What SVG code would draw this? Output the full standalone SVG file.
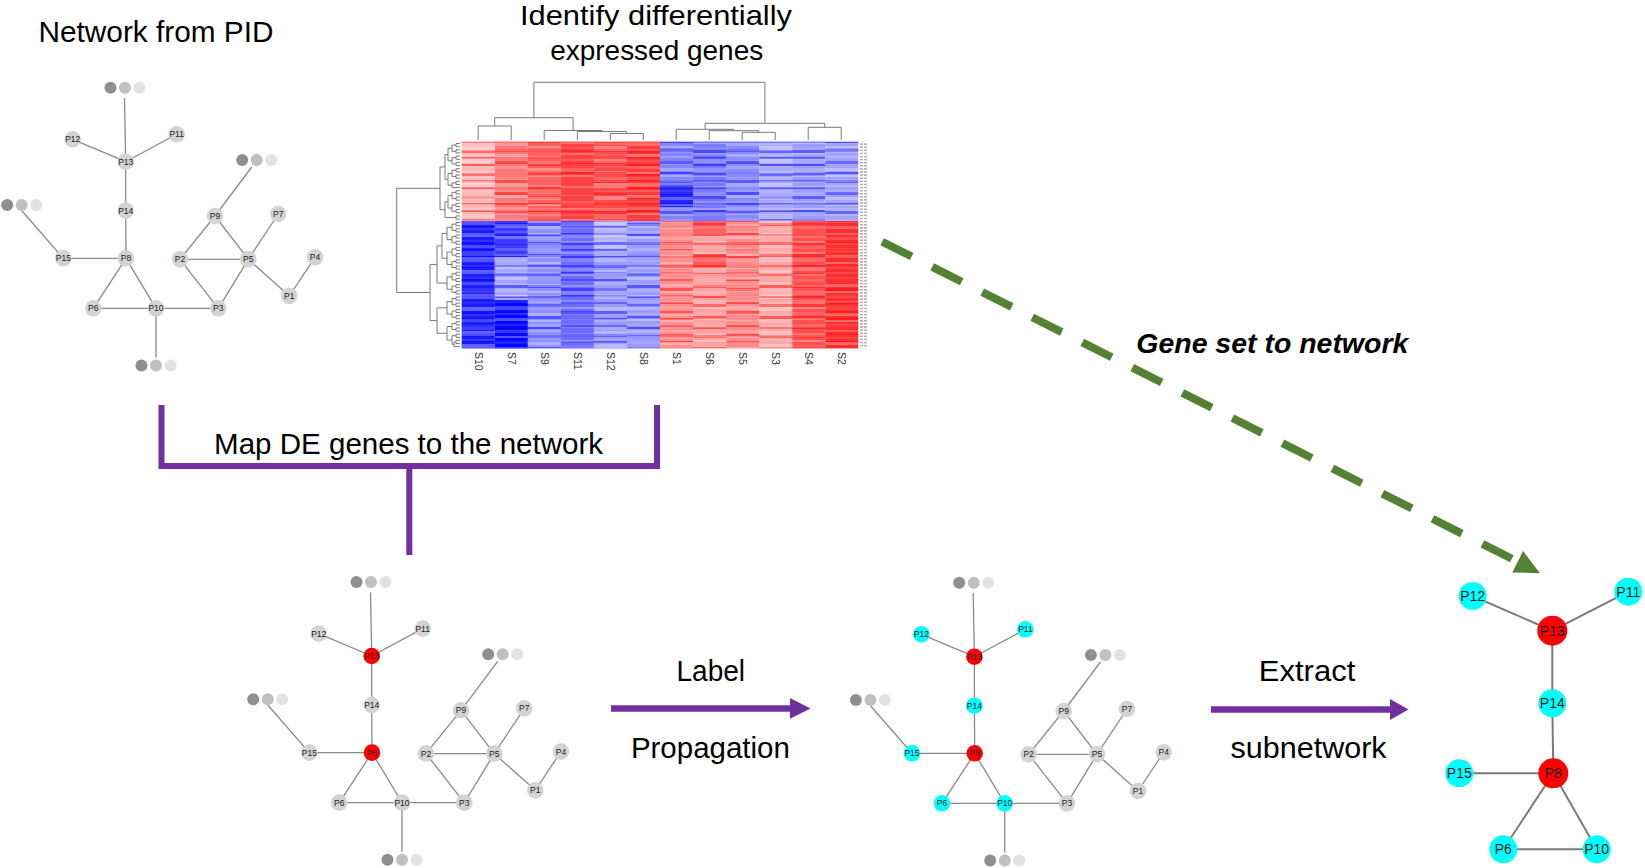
<svg xmlns="http://www.w3.org/2000/svg" xmlns:xlink="http://www.w3.org/1999/xlink" width="1645" height="868" viewBox="0 0 1645 868">
<style>
.t{font-family:"Liberation Sans",Arial,sans-serif;fill:#000}
.big{font-size:30px}
.sub{font-size:28px}
.sn text{font-family:"Liberation Sans",Arial,sans-serif;font-size:8.5px;fill:#222;text-anchor:middle}
.bn text{font-family:"Liberation Sans",Arial,sans-serif;font-size:14px;fill:#1a1a1a;text-anchor:middle}
.g{fill:#d3d3d3}
.r{fill:#ff0000}
.c{fill:#00ffff}
.e{stroke:#8a8a8a;stroke-width:1.3;fill:none}
.be{stroke:#7a7a7a;stroke-width:2;fill:none}
.dend{stroke:#7a7a7a;stroke-width:1;fill:none}
.pur{stroke:#7030a0;stroke-width:6;fill:none}
.collab{font-family:"Liberation Sans",Arial,sans-serif;font-size:10.5px;fill:#333}
</style>
<defs>
<path id="net-edges" d="M72.7 139.3L125.7 161.7M176.7 134.3L125.7 161.7M124.5 98L125.7 161.7M125.7 161.7L125.7 210.7M125.7 210.7L126 258.3M63.3 258.3L126 258.3M22 211L63.3 258.3M126 258.3L93.3 308.3M126 258.3L156 308.3M93.3 308.3L156 308.3M156 308.3L218.3 308.3M156 308.3L156 357.5M180 259.3L218.3 308.3M180 259.3L248.3 259.3M215 216L180 259.3M215 216L248.3 259.3M215 216L251.7 167M248.3 259.3L278.3 214M248.3 259.3L218.3 308.3M248.3 259.3L289.3 296M289.3 296L315 257.3"/>
<g id="dots3"><circle cx="-14.5" cy="0" r="6" fill="#8f8f8f"/><circle cx="0" cy="0" r="6" fill="#c0c0c0"/><circle cx="14.5" cy="0" r="6" fill="#e2e2e2"/></g>
<pattern id="w1" width="40" height="37" patternUnits="userSpaceOnUse"><rect y="0" width="40" height="3" fill="#fff" opacity=".25"/><rect y="6" width="40" height="2" fill="#fff" opacity=".12"/><rect y="11" width="40" height="4" fill="#fff" opacity=".3"/><rect y="18" width="40" height="2" fill="#fff" opacity=".08"/><rect y="23" width="40" height="3" fill="#fff" opacity=".2"/><rect y="29" width="40" height="5" fill="#fff" opacity=".15"/><rect y="35" width="40" height="2" fill="#fff" opacity=".3"/></pattern>
<pattern id="w2" width="40" height="41" patternUnits="userSpaceOnUse"><rect y="2" width="40" height="3" fill="#fff" opacity=".2"/><rect y="8" width="40" height="2" fill="#fff" opacity=".3"/><rect y="13" width="40" height="3" fill="#fff" opacity=".1"/><rect y="19" width="40" height="4" fill="#fff" opacity=".25"/><rect y="26" width="40" height="2" fill="#fff" opacity=".15"/><rect y="31" width="40" height="3" fill="#fff" opacity=".3"/><rect y="37" width="40" height="2" fill="#fff" opacity=".1"/></pattern>
<pattern id="w3" width="40" height="29" patternUnits="userSpaceOnUse"><rect y="1" width="40" height="2" fill="#fff" opacity=".3"/><rect y="5" width="40" height="3" fill="#fff" opacity=".15"/><rect y="11" width="40" height="2" fill="#fff" opacity=".2"/><rect y="16" width="40" height="4" fill="#fff" opacity=".1"/><rect y="23" width="40" height="3" fill="#fff" opacity=".28"/></pattern>
<pattern id="w4" width="40" height="33" patternUnits="userSpaceOnUse"><rect y="3" width="40" height="4" fill="#fff" opacity=".18"/><rect y="10" width="40" height="2" fill="#fff" opacity=".3"/><rect y="15" width="40" height="3" fill="#fff" opacity=".1"/><rect y="21" width="40" height="2" fill="#fff" opacity=".25"/><rect y="27" width="40" height="4" fill="#fff" opacity=".14"/></pattern>
<pattern id="pr1" width="40" height="23" patternUnits="userSpaceOnUse"><rect y="3" width="40" height="2" fill="#ff0000" opacity=".5"/><rect y="12" width="40" height="3" fill="#ff0000" opacity=".4"/><rect y="19" width="40" height="1.5" fill="#ff0000" opacity=".5"/></pattern>
<pattern id="pr2" width="40" height="31" patternUnits="userSpaceOnUse"><rect y="6" width="40" height="3" fill="#ff0000" opacity=".45"/><rect y="17" width="40" height="2" fill="#ff0000" opacity=".5"/><rect y="25" width="40" height="3" fill="#ff0000" opacity=".35"/></pattern>
<pattern id="pb1" width="40" height="23" patternUnits="userSpaceOnUse"><rect y="3" width="40" height="2" fill="#0000ff" opacity=".5"/><rect y="12" width="40" height="3" fill="#0000ff" opacity=".4"/><rect y="19" width="40" height="1.5" fill="#0000ff" opacity=".5"/></pattern>
<pattern id="pb2" width="40" height="31" patternUnits="userSpaceOnUse"><rect y="6" width="40" height="3" fill="#0000ff" opacity=".45"/><rect y="17" width="40" height="2" fill="#0000ff" opacity=".5"/><rect y="25" width="40" height="3" fill="#0000ff" opacity=".35"/></pattern>
<pattern id="rl" width="8" height="3.1" patternUnits="userSpaceOnUse"><rect x="0" y="0.9" width="7" height="1.2" fill="#9a9a9a"/></pattern>
</defs>
<rect width="1645" height="868" fill="#fff"/>

<!-- Titles -->
<g id="titles">
<text class="t big" x="38.5" y="41.7" textLength="235" lengthAdjust="spacingAndGlyphs">Network from PID</text>
<text class="t sub" x="656" y="24.5" text-anchor="middle" textLength="272" lengthAdjust="spacingAndGlyphs">Identify differentially</text>
<text class="t sub" x="656.7" y="59.5" text-anchor="middle" textLength="213" lengthAdjust="spacingAndGlyphs">expressed genes</text>
</g>

<!-- Heatmap -->
<g id="heatmap">
<g id="hm-cells">
<rect x="461.7" y="141.7" width="33.1" height="79.3" fill="#ffb8b8"/>
<rect x="494.75" y="141.7" width="33.1" height="79.3" fill="#ff7878"/>
<rect x="527.8" y="141.7" width="33.1" height="79.3" fill="#ff6262"/>
<rect x="560.85" y="141.7" width="33.1" height="79.3" fill="#ff4141"/>
<rect x="593.9" y="141.7" width="33.1" height="79.3" fill="#ff4a4a"/>
<rect x="626.95" y="141.7" width="33.1" height="79.3" fill="#ff3c3c"/>
<rect x="660" y="141.7" width="33.1" height="79.3" fill="#8484ff"/>
<rect x="660" y="185" width="33.1" height="22" fill="#2424ff"/>
<rect x="693.05" y="141.7" width="33.1" height="79.3" fill="#7a7aff"/>
<rect x="726.1" y="141.7" width="33.1" height="79.3" fill="#8a8aff"/>
<rect x="759.15" y="141.7" width="33.1" height="79.3" fill="#a9a9ff"/>
<rect x="792.2" y="141.7" width="33.1" height="79.3" fill="#9c9cff"/>
<rect x="825.25" y="141.7" width="33.05" height="79.3" fill="#a2a2ff"/>

<rect x="461.7" y="221" width="33.1" height="127.3" fill="#1c1cff"/>
<rect x="494.75" y="221" width="33.1" height="127.3" fill="#3a3aff"/>
<rect x="494.75" y="257" width="33.1" height="43" fill="#a6a6ff"/>
<rect x="494.75" y="300" width="33.1" height="48.3" fill="#0808ff"/>
<rect x="527.8" y="221" width="33.1" height="127.3" fill="#9090ff"/>
<rect x="560.85" y="221" width="33.1" height="127.3" fill="#6c6cff"/>
<rect x="593.9" y="221" width="33.1" height="127.3" fill="#9a9aff"/>
<rect x="593.9" y="221" width="33.1" height="29" fill="#b5b5ff"/>
<rect x="626.95" y="221" width="33.1" height="127.3" fill="#9c9cff"/>
<rect x="660" y="221" width="33.1" height="127.3" fill="#ff8e8e"/>
<rect x="693.05" y="221" width="33.1" height="127.3" fill="#ffa2a2"/>
<rect x="693.05" y="221" width="33.1" height="15" fill="#ff6060"/>
<rect x="693.05" y="255" width="33.1" height="13" fill="#ff5a5a"/>
<rect x="726.1" y="221" width="33.1" height="127.3" fill="#ff8c8c"/>
<rect x="759.15" y="221" width="33.1" height="127.3" fill="#ffa8a8"/>
<rect x="792.2" y="221" width="33.1" height="127.3" fill="#ff5050"/>
<rect x="825.25" y="221" width="33.05" height="127.3" fill="#ff2e2e"/>

<rect x="461.7" y="141.7" width="33.1" height="79.3" fill="url(#pr1)"/>
<rect x="494.75" y="141.7" width="33.1" height="79.3" fill="url(#pr2)"/>
<rect x="527.8" y="141.7" width="33.1" height="79.3" fill="url(#pr1)"/>
<rect x="560.85" y="141.7" width="33.1" height="79.3" fill="url(#pr2)"/>
<rect x="593.9" y="141.7" width="33.1" height="79.3" fill="url(#pr2)"/>
<rect x="626.95" y="141.7" width="33.1" height="79.3" fill="url(#pr1)"/>
<rect x="660" y="141.7" width="33.1" height="79.3" fill="url(#pb2)"/>
<rect x="693.05" y="141.7" width="33.1" height="79.3" fill="url(#pb1)"/>
<rect x="726.1" y="141.7" width="33.1" height="79.3" fill="url(#pb2)"/>
<rect x="759.15" y="141.7" width="33.1" height="79.3" fill="url(#pb1)"/>
<rect x="792.2" y="141.7" width="33.1" height="79.3" fill="url(#pb1)"/>
<rect x="825.25" y="141.7" width="33.05" height="79.3" fill="url(#pb2)"/>
<rect x="461.7" y="221" width="33.1" height="127.3" fill="url(#pb1)"/>
<rect x="494.75" y="221" width="33.1" height="127.3" fill="url(#pb2)"/>
<rect x="527.8" y="221" width="33.1" height="127.3" fill="url(#pb2)"/>
<rect x="560.85" y="221" width="33.1" height="127.3" fill="url(#pb1)"/>
<rect x="593.9" y="221" width="33.1" height="127.3" fill="url(#pb1)"/>
<rect x="626.95" y="221" width="33.1" height="127.3" fill="url(#pb2)"/>
<rect x="660" y="221" width="33.1" height="127.3" fill="url(#pr1)"/>
<rect x="693.05" y="221" width="33.1" height="127.3" fill="url(#pr2)"/>
<rect x="726.1" y="221" width="33.1" height="127.3" fill="url(#pr1)"/>
<rect x="759.15" y="221" width="33.1" height="127.3" fill="url(#pr2)"/>
<rect x="792.2" y="221" width="33.1" height="127.3" fill="url(#pr2)"/>
<rect x="825.25" y="221" width="33.05" height="127.3" fill="url(#pr1)"/>

<rect x="461.7" y="141.7" width="33.1" height="206.6" fill="url(#w1)"/>
<rect x="494.75" y="141.7" width="33.1" height="206.6" fill="url(#w2)"/>
<rect x="527.8" y="141.7" width="33.1" height="206.6" fill="url(#w3)"/>
<rect x="560.85" y="141.7" width="33.1" height="206.6" fill="url(#w4)"/>
<rect x="593.9" y="141.7" width="33.1" height="206.6" fill="url(#w1)"/>
<rect x="626.95" y="141.7" width="33.1" height="206.6" fill="url(#w2)"/>
<rect x="660" y="141.7" width="33.1" height="206.6" fill="url(#w3)"/>
<rect x="693.05" y="141.7" width="33.1" height="206.6" fill="url(#w4)"/>
<rect x="726.1" y="141.7" width="33.1" height="206.6" fill="url(#w2)"/>
<rect x="759.15" y="141.7" width="33.1" height="206.6" fill="url(#w1)"/>
<rect x="792.2" y="141.7" width="33.1" height="206.6" fill="url(#w4)"/>
<rect x="825.25" y="141.7" width="33.05" height="206.6" fill="url(#w3)"/>
</g>
<rect id="hm-rowlabels" x="860" y="141.7" width="7" height="206.6" fill="url(#rl)"/>
<g id="hm-dendro" class="dend">
<path d="M478.2 140V126H511.2V140M610.3 140V133.5H643.3V140M577.3 140V131.5H626.8V133.5M544.2 140V130.5H602.05V131.5M494.7 126V117.7H573.1V130.5M742.2 140V132.3H775.2V140M709.2 140V130.7H758.7V132.3M676.2 140V129.3H733.95V130.7M808.2 140V127.3H841.2V140M705.1 129.3V123.3H824.7V127.3M533.9 117.7V82.3H764.9V123.3"/>
<path d="M460 143.5H456V146.65H460M460 149.8H456V152.95H460M460 156.1H456V159.25H460M460 162.4H456V165.55H460M460 168.7H456V171.85H460M460 175H456V178.15H460M460 181.3H456V184.45H460M460 190.75H456V193.9H460M460 197.05H456V200.2H460M460 203.35H456V206.5H460M460 209.65H456V212.8H460M460 215.95H456V219.1H460M456 145.08H452V151.38H456M456 157.68H452V163.98H456M456 170.28H452V176.58H456M456 182.88H452V187.6H460M456 192.33H452V198.63H456M456 204.93H452V211.23H456M452 148.23H448V160.83H452M452 173.43H448V185.24H452M452 195.48H448V208.08H452M448 154.53H445V179.34H448M448 201.78H445V217.53H456M445 166.93H440V209.66H445"/>
<path d="M460 222.6H456V225.7H460M460 228.8H456V231.9H460M460 235H456V238.1H460M460 241.2H456V244.3H460M460 247.4H456V250.5H460M460 253.6H456V256.7H460M460 259.8H456V262.9H460M460 266H456V269.1H460M460 272.2H456V275.3H460M460 278.4H456V281.5H460M460 284.6H456V287.7H460M460 290.8H456V293.9H460M460 297H456V300.1H460M460 303.2H456V306.3H460M460 309.4H456V312.5H460M460 315.6H456V318.7H460M460 321.8H456V324.9H460M460 328H456V331.1H460M460 334.2H456V337.3H460M460 340.4H456V343.5H460M456 341.95H454V346.6H460M456 224.15H452V230.35H456M456 236.55H452V242.75H456M456 248.95H452V255.15H456M456 261.35H452V267.55H456M456 273.75H452V279.95H456M456 286.15H452V292.35H456M456 298.55H452V304.75H456M456 310.95H452V317.15H456M456 323.35H452V329.55H456M456 335.75H452V344.28H454M452 227.25H447V239.65H452M452 252.05H447V264.45H452M452 276.85H447V289.25H452M452 301.65H447V314.05H452M452 326.45H447V340.02H452M447 233.45H442V258.25H447M442 245.85H437V283.05H447M447 307.85H437V333.23H447M437 264.45H430V320.54H437M440 188.3H396.7V292.5H430"/>
</g>
<g id="hm-collabels" class="collab">
<text transform="translate(474.5,352) rotate(90)">S10</text>
<text transform="translate(507.5,352) rotate(90)">S7</text>
<text transform="translate(540.6,352) rotate(90)">S9</text>
<text transform="translate(573.6,352) rotate(90)">S11</text>
<text transform="translate(606.7,352) rotate(90)">S12</text>
<text transform="translate(639.7,352) rotate(90)">S8</text>
<text transform="translate(672.8,352) rotate(90)">S1</text>
<text transform="translate(705.8,352) rotate(90)">S6</text>
<text transform="translate(738.9,352) rotate(90)">S5</text>
<text transform="translate(771.9,352) rotate(90)">S3</text>
<text transform="translate(805,352) rotate(90)">S4</text>
<text transform="translate(838,352) rotate(90)">S2</text>
</g>
</g>

<!-- Connectors between stages -->
<g id="connectors">
<path class="pur" d="M161.5 405V466H657V405M409.3 466V555"/>
<line x1="611" y1="708.4" x2="791" y2="708.4" stroke="#7030a0" stroke-width="6.5"/>
<polygon points="790,698 810.5,708.4 790,718.8" fill="#7030a0"/>
<line x1="1211" y1="709.5" x2="1391" y2="709.5" stroke="#7030a0" stroke-width="6.5"/>
<polygon points="1390,699 1408.5,709.5 1390,720" fill="#7030a0"/>
<line x1="882.2" y1="241.7" x2="1517.7" y2="561.7" stroke="#548235" stroke-width="8" stroke-dasharray="33 23"/>
<polygon points="1540,573.3 1512.3,572.4 1523.1,551" fill="#548235"/>
</g>

<g id="labels">
<text class="t big" x="408.6" y="454" text-anchor="middle" textLength="389" lengthAdjust="spacingAndGlyphs">Map DE genes to the network</text>
<text class="t big" x="710.8" y="680.7" text-anchor="middle" textLength="68.6" lengthAdjust="spacingAndGlyphs">Label</text>
<text class="t big" x="710.4" y="758.3" text-anchor="middle" textLength="159" lengthAdjust="spacingAndGlyphs">Propagation</text>
<text class="t big" x="1307" y="680.5" text-anchor="middle" textLength="96.5" lengthAdjust="spacingAndGlyphs">Extract</text>
<text class="t big" x="1308.6" y="758" text-anchor="middle" textLength="156" lengthAdjust="spacingAndGlyphs">subnetwork</text>
<text class="t" x="1136.3" y="353.3" font-size="28.5" font-weight="bold" font-style="italic" textLength="272" lengthAdjust="spacingAndGlyphs">Gene set to network</text>
</g>

<!-- Network A: from PID -->
<g id="netA" class="sn">
<g id="netA-edges" class="e"><use href="#net-edges"/></g>
<use id="netA-dotsA" href="#dots3" x="125" y="87.7"/>
<use id="netA-dotsB" href="#dots3" x="256.7" y="160"/>
<use id="netA-dotsC" href="#dots3" x="21.7" y="205"/>
<use id="netA-dotsD" href="#dots3" x="156" y="365.5"/>
<g id="netA-P12"><circle class="g" cx="72.7" cy="139.3" r="8.3"/><text x="72.7" y="142.3">P12</text></g>
<g id="netA-P11"><circle class="g" cx="176.7" cy="134.3" r="8.3"/><text x="176.7" y="137.3">P11</text></g>
<g id="netA-P13"><circle class="g" cx="125.7" cy="161.7" r="8.3"/><text x="125.7" y="164.7">P13</text></g>
<g id="netA-P14"><circle class="g" cx="125.7" cy="210.7" r="8.3"/><text x="125.7" y="213.7">P14</text></g>
<g id="netA-P8"><circle class="g" cx="126" cy="258.3" r="8.3"/><text x="126" y="261.3">P8</text></g>
<g id="netA-P15"><circle class="g" cx="63.3" cy="258.3" r="8.3"/><text x="63.3" y="261.3">P15</text></g>
<g id="netA-P6"><circle class="g" cx="93.3" cy="308.3" r="8.3"/><text x="93.3" y="311.3">P6</text></g>
<g id="netA-P10"><circle class="g" cx="156" cy="308.3" r="8.3"/><text x="156" y="311.3">P10</text></g>
<g id="netA-P3"><circle class="g" cx="218.3" cy="308.3" r="8.3"/><text x="218.3" y="311.3">P3</text></g>
<g id="netA-P2"><circle class="g" cx="180" cy="259.3" r="8.3"/><text x="180" y="262.3">P2</text></g>
<g id="netA-P5"><circle class="g" cx="248.3" cy="259.3" r="8.3"/><text x="248.3" y="262.3">P5</text></g>
<g id="netA-P9"><circle class="g" cx="215" cy="216" r="8.3"/><text x="215" y="219">P9</text></g>
<g id="netA-P7"><circle class="g" cx="278.3" cy="214" r="8.3"/><text x="278.3" y="217">P7</text></g>
<g id="netA-P4"><circle class="g" cx="315" cy="257.3" r="8.3"/><text x="315" y="260.3">P4</text></g>
<g id="netA-P1"><circle class="g" cx="289.3" cy="296" r="8.3"/><text x="289.3" y="299">P1</text></g>
</g>

<!-- Network B: mapped DE genes -->
<g id="netB" class="sn" transform="translate(246,494.3)">
<g id="netB-edges" class="e"><use href="#net-edges"/></g>
<use id="netB-dotsA" href="#dots3" x="125" y="87.7"/>
<use id="netB-dotsB" href="#dots3" x="256.7" y="160"/>
<use id="netB-dotsC" href="#dots3" x="21.7" y="205"/>
<use id="netB-dotsD" href="#dots3" x="156" y="365.5"/>
<g id="netB-P12"><circle class="g" cx="72.7" cy="139.3" r="8.3"/><text x="72.7" y="142.3">P12</text></g>
<g id="netB-P11"><circle class="g" cx="176.7" cy="134.3" r="8.3"/><text x="176.7" y="137.3">P11</text></g>
<g id="netB-P13"><circle class="r" cx="125.7" cy="161.7" r="8.3"/><text x="125.7" y="164.7">P13</text></g>
<g id="netB-P14"><circle class="g" cx="125.7" cy="210.7" r="8.3"/><text x="125.7" y="213.7">P14</text></g>
<g id="netB-P8"><circle class="r" cx="126" cy="258.3" r="8.3"/><text x="126" y="261.3">P8</text></g>
<g id="netB-P15"><circle class="g" cx="63.3" cy="258.3" r="8.3"/><text x="63.3" y="261.3">P15</text></g>
<g id="netB-P6"><circle class="g" cx="93.3" cy="308.3" r="8.3"/><text x="93.3" y="311.3">P6</text></g>
<g id="netB-P10"><circle class="g" cx="156" cy="308.3" r="8.3"/><text x="156" y="311.3">P10</text></g>
<g id="netB-P3"><circle class="g" cx="218.3" cy="308.3" r="8.3"/><text x="218.3" y="311.3">P3</text></g>
<g id="netB-P2"><circle class="g" cx="180" cy="259.3" r="8.3"/><text x="180" y="262.3">P2</text></g>
<g id="netB-P5"><circle class="g" cx="248.3" cy="259.3" r="8.3"/><text x="248.3" y="262.3">P5</text></g>
<g id="netB-P9"><circle class="g" cx="215" cy="216" r="8.3"/><text x="215" y="219">P9</text></g>
<g id="netB-P7"><circle class="g" cx="278.3" cy="214" r="8.3"/><text x="278.3" y="217">P7</text></g>
<g id="netB-P4"><circle class="g" cx="315" cy="257.3" r="8.3"/><text x="315" y="260.3">P4</text></g>
<g id="netB-P1"><circle class="g" cx="289.3" cy="296" r="8.3"/><text x="289.3" y="299">P1</text></g>
</g>

<!-- Network C: label propagation -->
<g id="netC" class="sn" transform="translate(848.7,495)">
<g id="netC-edges" class="e"><use href="#net-edges"/></g>
<use id="netC-dotsA" href="#dots3" x="125" y="87.7"/>
<use id="netC-dotsB" href="#dots3" x="256.7" y="160"/>
<use id="netC-dotsC" href="#dots3" x="21.7" y="205"/>
<use id="netC-dotsD" href="#dots3" x="156" y="365.5"/>
<g id="netC-P12"><circle class="c" cx="72.7" cy="139.3" r="8.3"/><text x="72.7" y="142.3">P12</text></g>
<g id="netC-P11"><circle class="c" cx="176.7" cy="134.3" r="8.3"/><text x="176.7" y="137.3">P11</text></g>
<g id="netC-P13"><circle class="r" cx="125.7" cy="161.7" r="8.3"/><text x="125.7" y="164.7">P13</text></g>
<g id="netC-P14"><circle class="c" cx="125.7" cy="210.7" r="8.3"/><text x="125.7" y="213.7">P14</text></g>
<g id="netC-P8"><circle class="r" cx="126" cy="258.3" r="8.3"/><text x="126" y="261.3">P8</text></g>
<g id="netC-P15"><circle class="c" cx="63.3" cy="258.3" r="8.3"/><text x="63.3" y="261.3">P15</text></g>
<g id="netC-P6"><circle class="c" cx="93.3" cy="308.3" r="8.3"/><text x="93.3" y="311.3">P6</text></g>
<g id="netC-P10"><circle class="c" cx="156" cy="308.3" r="8.3"/><text x="156" y="311.3">P10</text></g>
<g id="netC-P3"><circle class="g" cx="218.3" cy="308.3" r="8.3"/><text x="218.3" y="311.3">P3</text></g>
<g id="netC-P2"><circle class="g" cx="180" cy="259.3" r="8.3"/><text x="180" y="262.3">P2</text></g>
<g id="netC-P5"><circle class="g" cx="248.3" cy="259.3" r="8.3"/><text x="248.3" y="262.3">P5</text></g>
<g id="netC-P9"><circle class="g" cx="215" cy="216" r="8.3"/><text x="215" y="219">P9</text></g>
<g id="netC-P7"><circle class="g" cx="278.3" cy="214" r="8.3"/><text x="278.3" y="217">P7</text></g>
<g id="netC-P4"><circle class="g" cx="315" cy="257.3" r="8.3"/><text x="315" y="260.3">P4</text></g>
<g id="netC-P1"><circle class="g" cx="289.3" cy="296" r="8.3"/><text x="289.3" y="299">P1</text></g>
</g>

<!-- Network D: extracted subnetwork -->
<g id="netD" class="bn">
<g id="netD-edges" class="be">
<path d="M1472.7 596L1552.3 630.7M1628.3 591.7L1552.3 630.7M1552.3 630.7L1552.3 703.3M1552.3 703.3L1553.3 773.3M1459.3 773.3L1553.3 773.3M1553.3 773.3L1503.3 849.3M1553.3 773.3L1596.7 849.3M1503.3 849.3L1596.7 849.3"/>
</g>
<g id="netD-P12"><circle class="c" cx="1472.7" cy="596" r="14"/><text x="1472.7" y="601">P12</text></g>
<g id="netD-P11"><circle class="c" cx="1628.3" cy="591.7" r="14"/><text x="1628.3" y="596.7">P11</text></g>
<g id="netD-P13"><circle class="r" cx="1552.3" cy="630.7" r="15"/><text x="1552.3" y="635.7">P13</text></g>
<g id="netD-P14"><circle class="c" cx="1552.3" cy="703.3" r="14"/><text x="1552.3" y="708.3">P14</text></g>
<g id="netD-P15"><circle class="c" cx="1459.3" cy="773.3" r="14"/><text x="1459.3" y="778.3">P15</text></g>
<g id="netD-P8"><circle class="r" cx="1553.3" cy="773.3" r="15"/><text x="1553.3" y="778.3">P8</text></g>
<g id="netD-P6"><circle class="c" cx="1503.3" cy="849.3" r="14"/><text x="1503.3" y="854.3">P6</text></g>
<g id="netD-P10"><circle class="c" cx="1596.7" cy="849.3" r="14"/><text x="1596.7" y="854.3">P10</text></g>
</g>
</svg>
